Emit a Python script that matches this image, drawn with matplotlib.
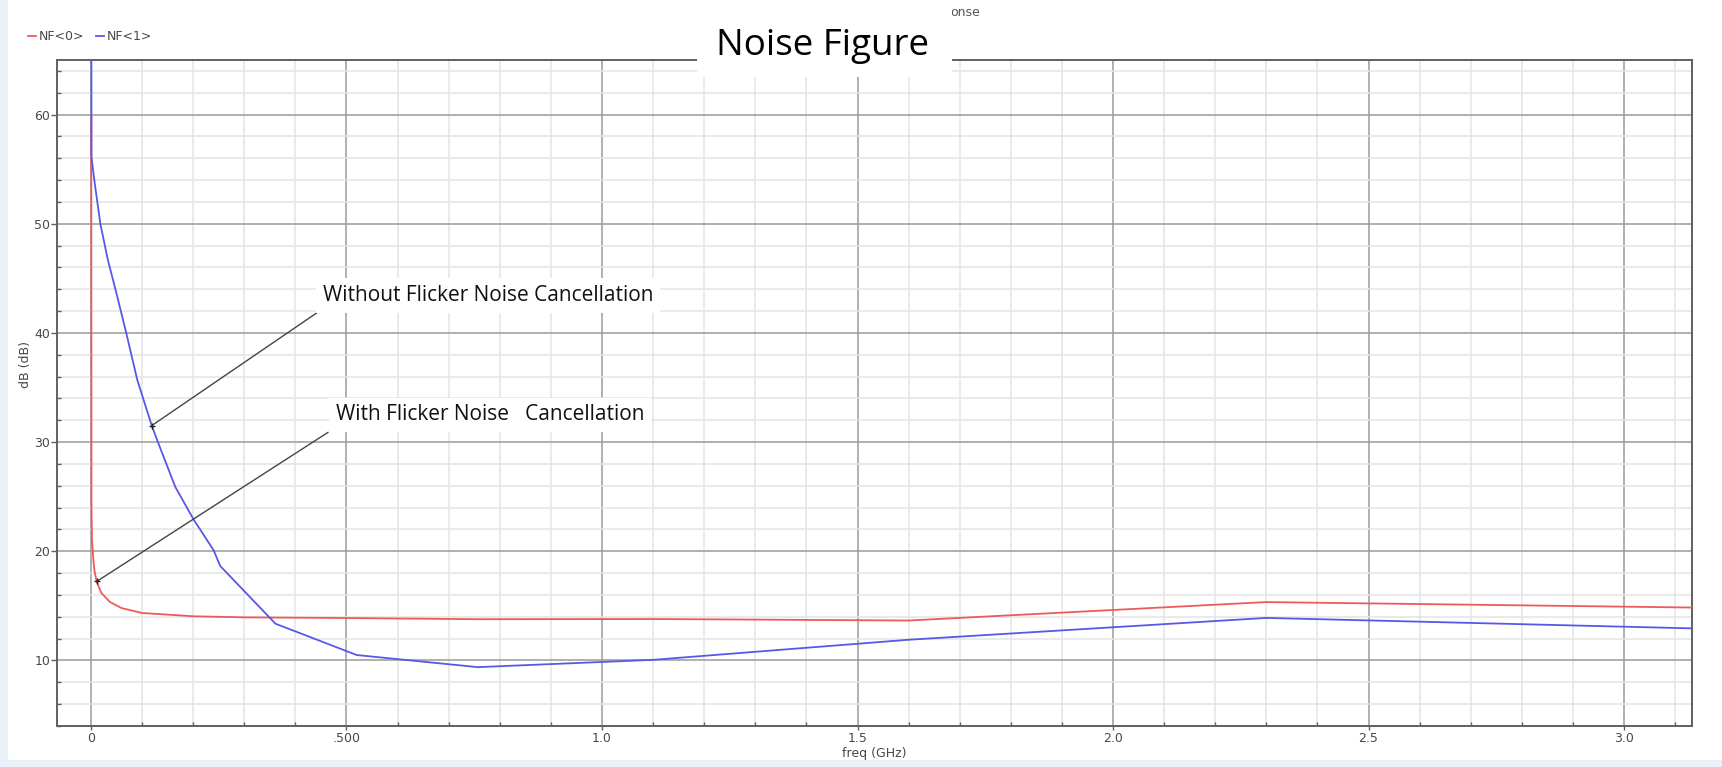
import numpy as np
import matplotlib.pyplot as plt
from matplotlib.patches import Rectangle
from matplotlib.ticker import MultipleLocator, FixedLocator, FixedFormatter

# NF<0> (with flicker noise cancellation)
freq0 = [0.0005, 0.001, 0.002, 0.005, 0.007, 0.011, 0.02, 0.037, 0.06, 0.1,
         0.2, 0.3, 0.5, 0.76, 1.1, 1.6, 2.3, 3.3]
nf0 = [59.8, 24.0, 21.0, 19.0, 18.2, 17.24, 16.2, 15.36, 14.8, 14.35,
       14.05, 13.95, 13.89, 13.78, 13.8, 13.66, 15.35, 14.75]

# NF<1> (without flicker noise cancellation)
freq1 = [0.0001, 0.001, 0.0065, 0.0183, 0.033, 0.05, 0.069, 0.0906, 0.119,
         0.131, 0.165, 0.201, 0.24, 0.253, 0.361, 0.52, 0.757, 1.1, 1.6, 2.3, 3.3]
nf1 = [90, 56.1, 54, 50, 46.7, 43.6, 40, 35.7, 31.5,
       30, 25.9, 22.9, 20.1, 18.65, 13.37, 10.5, 9.39, 10.06, 11.9, 13.9, 12.75]

xticks = [0, 0.5, 1.0, 1.5, 2.0, 2.5, 3.0]
xticklabels = ["0", ".500", "1.0", "1.5", "2.0", "2.5", "3.0"]
yticks = [10, 20, 30, 40, 50, 60]

# annotation anchors (freq, dB)
pt_without = (0.1188, 31.51)
end_without = (0.445, 41.94)
txt_without = (0.454, 43.46)
pt_with = (0.0112, 17.24)
end_with = (0.464, 30.9)
txt_with = (0.479, 32.49)

W, H = 1722, 767
fig = plt.figure(figsize=(W / 100, H / 100), dpi=100)
fig.patch.set_facecolor("white")
ax = fig.add_axes([57 / W, 1 - 726 / H, (1692 - 57) / W, (726 - 60) / H])

red = "#ee5a5a"
blue = "#5858e8"
l0, = ax.plot(freq0, nf0, color=red, lw=1.3, label="NF<0>", zorder=3)
l1, = ax.plot(freq1, nf1, color=blue, lw=1.3, label="NF<1>", zorder=3)

ax.set_xlim(-0.0665, 3.133)
ax.set_ylim(4, 65)

ax.xaxis.set_major_locator(FixedLocator(xticks))
ax.xaxis.set_major_formatter(FixedFormatter(xticklabels))
ax.xaxis.set_minor_locator(MultipleLocator(0.1))
ax.yaxis.set_major_locator(FixedLocator(yticks))
ax.yaxis.set_minor_locator(MultipleLocator(2))

ax.grid(which="major", color="#9a9a9a", lw=1.1, zorder=1)
ax.grid(which="minor", color="#e4e4e4", lw=1.1, zorder=0)
ax.set_axisbelow(True)

for s in ax.spines.values():
    s.set_color("#606060")
    s.set_linewidth(1.4)

ax.tick_params(which="major", direction="out", length=4, width=1, color="#606060",
               labelsize=9, labelcolor="#484848", pad=1)
ax.tick_params(which="minor", direction="in", length=3, width=1, color="#606060")
ax.tick_params(axis="x", which="major", length=3, pad=1)

ax.set_xlabel("freq (GHz)", fontsize=9, color="#484848")
ax.xaxis.set_label_coords(0.5, -0.0315)
ax.set_ylabel("dB (dB)", fontsize=9, color="#484848")
ax.yaxis.set_label_coords(-0.0155, 0.5435)

# annotations
ann_font = dict(family="Open Sans", fontsize=15, color="#111111")
for pt, end, txt, label in [(pt_without, end_without, txt_without, "Without Flicker Noise Cancellation"),
                            (pt_with, end_with, txt_with, "With Flicker Noise   Cancellation")]:
    ax.annotate("", xy=pt, xytext=end,
                arrowprops=dict(arrowstyle="-", color="#444444", lw=1, shrinkA=0, shrinkB=0),
                zorder=4)
    ax.plot(*pt, marker="+", color="#222222", ms=5, mew=1, zorder=5)
    ax.text(txt[0], txt[1], label, ha="left", va="center", zorder=6,
            bbox=dict(facecolor="white", edgecolor="none", pad=5), **ann_font)

# legend at top left
fig.legend(handles=[l0, l1], loc="center left", bbox_to_anchor=(28 / W, 1 - 37 / H),
           ncol=2, frameon=False, fontsize=9, handlelength=0.6, handletextpad=0.3,
           columnspacing=0.9, borderpad=0, borderaxespad=0, labelcolor="#484848")

# title box covering the top of the plot
fig.patches.append(Rectangle((697 / W, 1 - 77 / H), 255 / W, 77 / H, transform=fig.transFigure,
                             facecolor="white", edgecolor="none", zorder=5))
fig.text(822 / W, 1 - 55 / H, "Noise Figure", ha="center", va="baseline",
         family="Open Sans", fontsize=26.5, color="black", zorder=6)
fig.text(950 / W, 1 - 12 / H, "onse", ha="left", va="center", fontsize=9, color="#555555")

# light border strips of the screenshot
fig.patches.append(Rectangle((0, 0), 8 / W, 1, transform=fig.transFigure,
                             facecolor="#e9f0f8", edgecolor="none", zorder=0))
fig.patches.append(Rectangle((0, 0), 1, 7 / H, transform=fig.transFigure,
                             facecolor="#e9f0f8", edgecolor="none", zorder=0))

fig.savefig("out.png", dpi=100)
